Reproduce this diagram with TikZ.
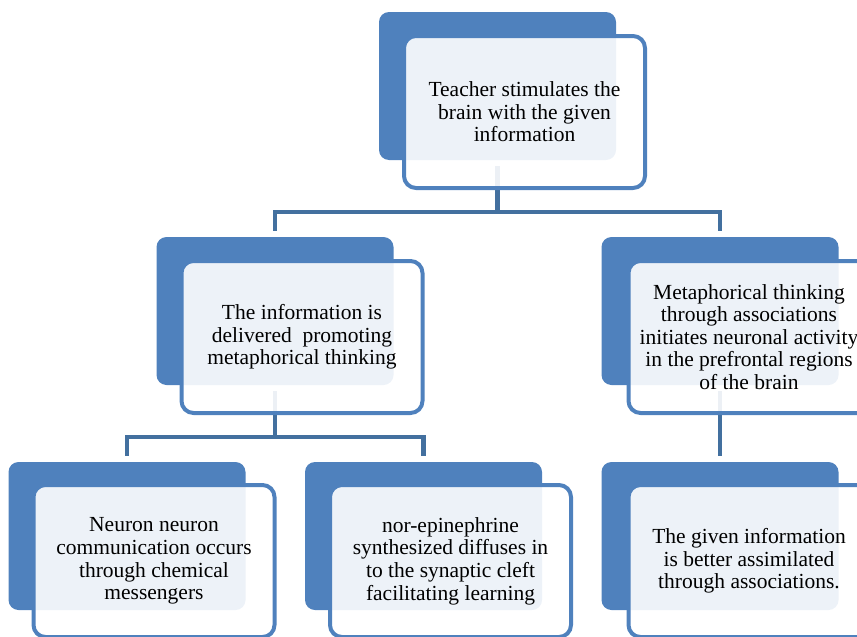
\documentclass[tikz,border=0pt]{standalone}
\usepackage{fontspec}
\setmainfont{Liberation Serif}
\usetikzlibrary{calc}
\definecolor{accent}{HTML}{4F81BD}
\definecolor{connc}{HTML}{43709F}
\tikzset{
  backbox/.style={fill=accent, draw=none, rounded corners=10pt, minimum width=237pt, minimum height=148pt, inner sep=0pt},
  frontbox/.style={draw=accent, line width=4pt, fill=white, fill opacity=0.9, text opacity=1, rounded corners=12pt, minimum width=241pt, minimum height=152pt, inner sep=0pt, align=center, font=\fontsize{21.5}{22.6}\selectfont, text=black},
  conn/.style={draw=connc, line width=4.5pt, shorten <=6pt, shorten >=6pt}
}
\begin{document}
\begin{tikzpicture}[x=1pt, y=-1pt]
\useasboundingbox (0,0) rectangle (857,637);
\clip (0,0) rectangle (857,637);
% back boxes
\node[backbox] (tb) at (497.5,86) {};
\node[backbox] (lb) at (275,311) {};
\node[backbox] (rb) at (720,311) {};
\node[backbox] (llb) at (127,536) {};
\node[backbox] (lmb) at (423.5,536) {};
\node[backbox] (rrb) at (720,536) {};
% connectors
\draw[conn] (tb.south) |- ($(lb.north)+(0,-25)$) -- (lb.north);
\draw[conn] (tb.south) |- ($(rb.north)+(0,-25)$) -- (rb.north);
\draw[conn] (lb.south) |- ($(llb.north)+(0,-25)$) -- (llb.north);
\draw[conn] (lb.south) |- ($(lmb.north)+(0,-25)$) -- (lmb.north);
\draw[conn] (rb.south) -- (rrb.north);
% front boxes
\node[frontbox] (t) at (524.5,112) {Teacher stimulates the\\brain with the given\\information};
\node[frontbox] (l) at (302,337) {The information is\\delivered\ \ promoting\\metaphorical thinking};
\node[frontbox] (r) at (749,337) {Metaphorical thinking\\through associations\\initiates neuronal activity\\in the prefrontal regions\\of the brain};
\node[frontbox] (ll) at (154,561) {Neuron neuron\\communication occurs\\through chemical\\messengers};
\node[frontbox] (lm) at (450.5,561) {nor-epinephrine\\synthesized diffuses in\\to the synaptic cleft\\facilitating learning};
\node[frontbox] (rr) at (749,561) {The given information\\is better assimilated\\through associations.};
\end{tikzpicture}
\end{document}
